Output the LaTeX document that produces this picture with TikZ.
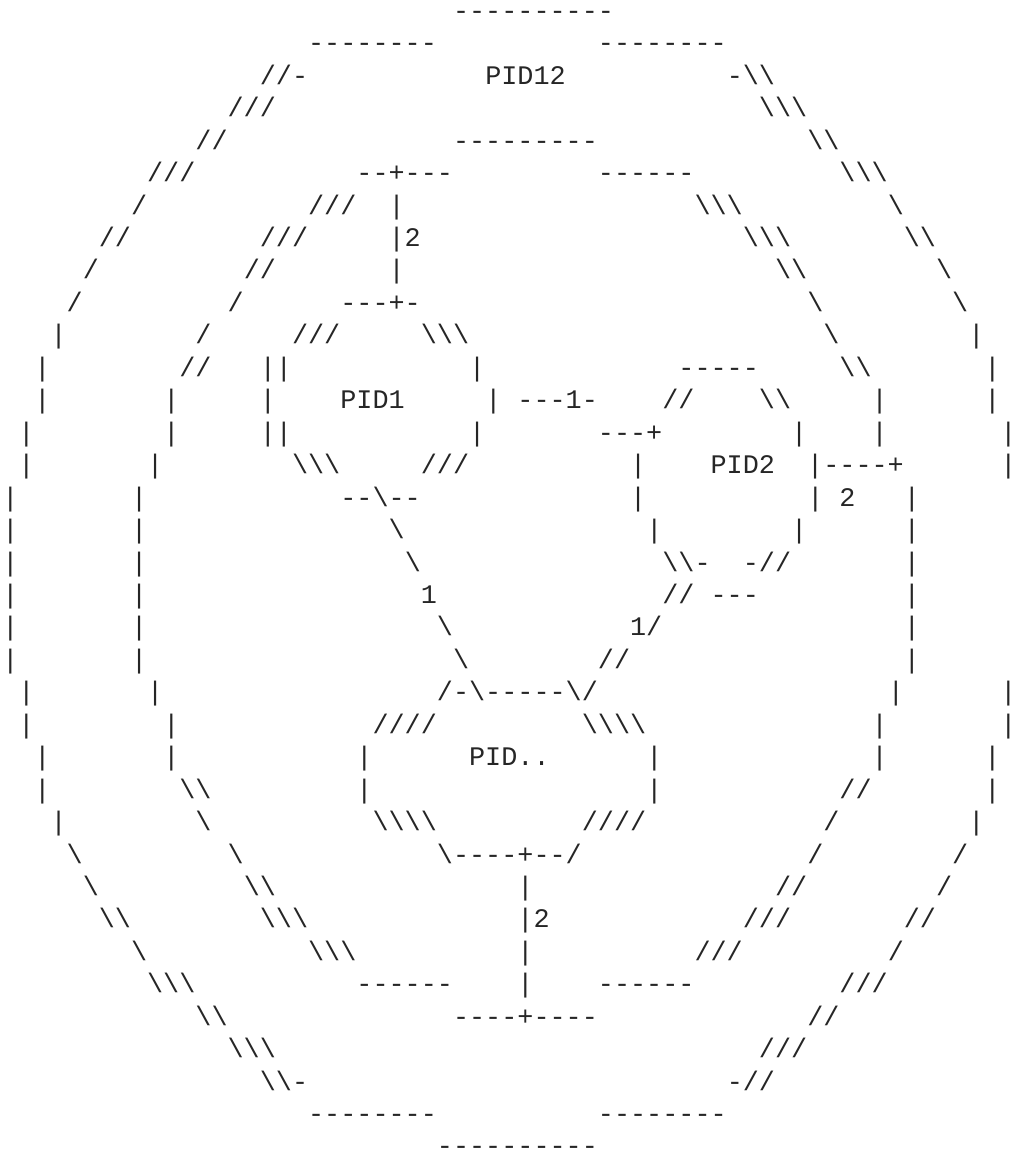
\documentclass[tikz,border=0pt]{standalone}
\usepackage{fontspec}
\newfontfamily\ascfont{Liberation Mono}
\definecolor{ink}{HTML}{262626}
\ExplSyntaxOn
\dim_new:N \l__asciiart_cw_dim
\dim_set:Nn \l__asciiart_cw_dim {16.1pt}
\cs_new_protected:Npn \__asciiart_cell:n #1
  {
    \str_if_eq:nnTF {#1} {_}
      { \hbox_to_wd:nn { \l__asciiart_cw_dim } { } }
      { \hbox_to_wd:nn { \l__asciiart_cw_dim } { \hss #1 \hss } }
  }
\NewDocumentCommand \asciitext { m }
  { \str_map_function:nN {#1} \__asciiart_cell:n }
\NewDocumentCommand \arun { m m }
  {
    \hbox_to_wd:nn { 0pt }
      { \skip_horizontal:n { \dim_eval:n { #1 \l__asciiart_cw_dim } } \asciitext {#2} \hss }
  }
\ExplSyntaxOff
\tikzset{asciiline/.style={anchor=base west, inner sep=0pt, outer sep=0pt, text=ink,
  text depth=0pt, font=\ascfont\fontsize{26.8}{30}\selectfont}}
\begin{document}
\begin{tikzpicture}[x=1pt,y=1pt]
\useasboundingbox (0,0) rectangle (1021,1154);
\fill[white] (0,0) rectangle (1021,1154);
\node[asciiline] (l1) at (1.75,1134.6) {\arun{28}{----------}};
\node[asciiline] (l2) at (1.75,1102.15) {\arun{19}{--------}\arun{37}{--------}};
\node[asciiline] (l3) at (1.75,1069.7) {\arun{16}{//-}\arun{30}{PID12}\arun{45}{-\\}};
\node[asciiline] (l4) at (1.75,1037.25) {\arun{14}{///}\arun{47}{\\\_}};
\node[asciiline] (l5) at (1.75,1004.8) {\arun{12}{//}\arun{28}{---------}\arun{50}{\\}};
\node[asciiline] (l6) at (1.75,972.35) {\arun{9}{///}\arun{22}{--+---}\arun{37}{------}\arun{52}{\\\_}};
\node[asciiline] (l7) at (1.75,939.9) {\arun{8}{/}\arun{19}{///}\arun{24}{|}\arun{43}{\\\_}\arun{55}{\_}};
\node[asciiline] (l8) at (1.75,907.45) {\arun{6}{//}\arun{16}{///}\arun{24}{|2}\arun{46}{\\\_}\arun{56}{\\}};
\node[asciiline] (l9) at (1.75,875.0) {\arun{5}{/}\arun{15}{//}\arun{24}{|}\arun{48}{\\}\arun{58}{\_}};
\node[asciiline] (l10) at (1.75,842.55) {\arun{4}{/}\arun{14}{/}\arun{21}{---+-}\arun{50}{\_}\arun{59}{\_}};
\node[asciiline] (l11) at (1.75,810.1) {\arun{3}{|}\arun{12}{/}\arun{18}{///}\arun{26}{\\\_}\arun{51}{\_}\arun{60}{|}};
\node[asciiline] (l12) at (1.75,777.65) {\arun{2}{|}\arun{11}{//}\arun{16}{||}\arun{29}{|}\arun{42}{-----}\arun{52}{\\}\arun{61}{|}};
\node[asciiline] (l13) at (1.75,745.2) {\arun{2}{|}\arun{10}{|}\arun{16}{|}\arun{21}{PID1}\arun{30}{|}\arun{32}{---1-}\arun{41}{//}\arun{47}{\\}\arun{54}{|}\arun{61}{|}};
\node[asciiline] (l14) at (1.75,712.75) {\arun{1}{|}\arun{10}{|}\arun{16}{||}\arun{29}{|}\arun{37}{---+}\arun{49}{|}\arun{54}{|}\arun{62}{|}};
\node[asciiline] (l15) at (1.75,680.3) {\arun{1}{|}\arun{9}{|}\arun{18}{\\\_}\arun{26}{///}\arun{39}{|}\arun{44}{PID2}\arun{50}{|----+}\arun{62}{|}};
\node[asciiline] (l16) at (1.75,647.85) {\arun{0}{|}\arun{8}{|}\arun{21}{--\--}\arun{39}{|}\arun{50}{|}\arun{52}{2}\arun{56}{|}};
\node[asciiline] (l17) at (1.75,615.4) {\arun{0}{|}\arun{8}{|}\arun{24}{\_}\arun{40}{|}\arun{49}{|}\arun{56}{|}};
\node[asciiline] (l18) at (1.75,582.95) {\arun{0}{|}\arun{8}{|}\arun{25}{\_}\arun{41}{\\-}\arun{46}{-//}\arun{56}{|}};
\node[asciiline] (l19) at (1.75,550.5) {\arun{0}{|}\arun{8}{|}\arun{26}{1}\arun{41}{//}\arun{44}{---}\arun{56}{|}};
\node[asciiline] (l20) at (1.75,518.05) {\arun{0}{|}\arun{8}{|}\arun{27}{\_}\arun{39}{1/}\arun{56}{|}};
\node[asciiline] (l21) at (1.75,485.6) {\arun{0}{|}\arun{8}{|}\arun{28}{\_}\arun{37}{//}\arun{56}{|}};
\node[asciiline] (l22) at (1.75,453.15) {\arun{1}{|}\arun{9}{|}\arun{27}{/-\-----\/}\arun{55}{|}\arun{62}{|}};
\node[asciiline] (l23) at (1.75,420.7) {\arun{1}{|}\arun{10}{|}\arun{23}{////}\arun{36}{\\\\}\arun{54}{|}\arun{62}{|}};
\node[asciiline] (l24) at (1.75,388.25) {\arun{2}{|}\arun{10}{|}\arun{22}{|}\arun{29}{PID..}\arun{40}{|}\arun{54}{|}\arun{61}{|}};
\node[asciiline] (l25) at (1.75,355.8) {\arun{2}{|}\arun{11}{\\}\arun{22}{|}\arun{40}{|}\arun{52}{//}\arun{61}{|}};
\node[asciiline] (l26) at (1.75,323.35) {\arun{3}{|}\arun{12}{\_}\arun{23}{\\\\}\arun{36}{////}\arun{51}{/}\arun{60}{|}};
\node[asciiline] (l27) at (1.75,290.9) {\arun{4}{\_}\arun{14}{\_}\arun{27}{\----+--/}\arun{50}{/}\arun{59}{/}};
\node[asciiline] (l28) at (1.75,258.45) {\arun{5}{\_}\arun{15}{\\}\arun{32}{|}\arun{48}{//}\arun{58}{/}};
\node[asciiline] (l29) at (1.75,226.0) {\arun{6}{\\}\arun{16}{\\\_}\arun{32}{|2}\arun{46}{///}\arun{56}{//}};
\node[asciiline] (l30) at (1.75,193.55) {\arun{8}{\_}\arun{19}{\\\_}\arun{32}{|}\arun{43}{///}\arun{55}{/}};
\node[asciiline] (l31) at (1.75,161.1) {\arun{9}{\\\_}\arun{22}{------}\arun{32}{|}\arun{37}{------}\arun{52}{///}};
\node[asciiline] (l32) at (1.75,128.65) {\arun{12}{\\}\arun{28}{----+----}\arun{50}{//}};
\node[asciiline] (l33) at (1.75,96.2) {\arun{14}{\\\_}\arun{47}{///}};
\node[asciiline] (l34) at (1.75,63.75) {\arun{16}{\\-}\arun{45}{-//}};
\node[asciiline] (l35) at (1.75,31.3) {\arun{19}{--------}\arun{37}{--------}};
\node[asciiline] (l36) at (1.75,0.0) {\arun{27}{----------}};
\end{tikzpicture}
\end{document}
